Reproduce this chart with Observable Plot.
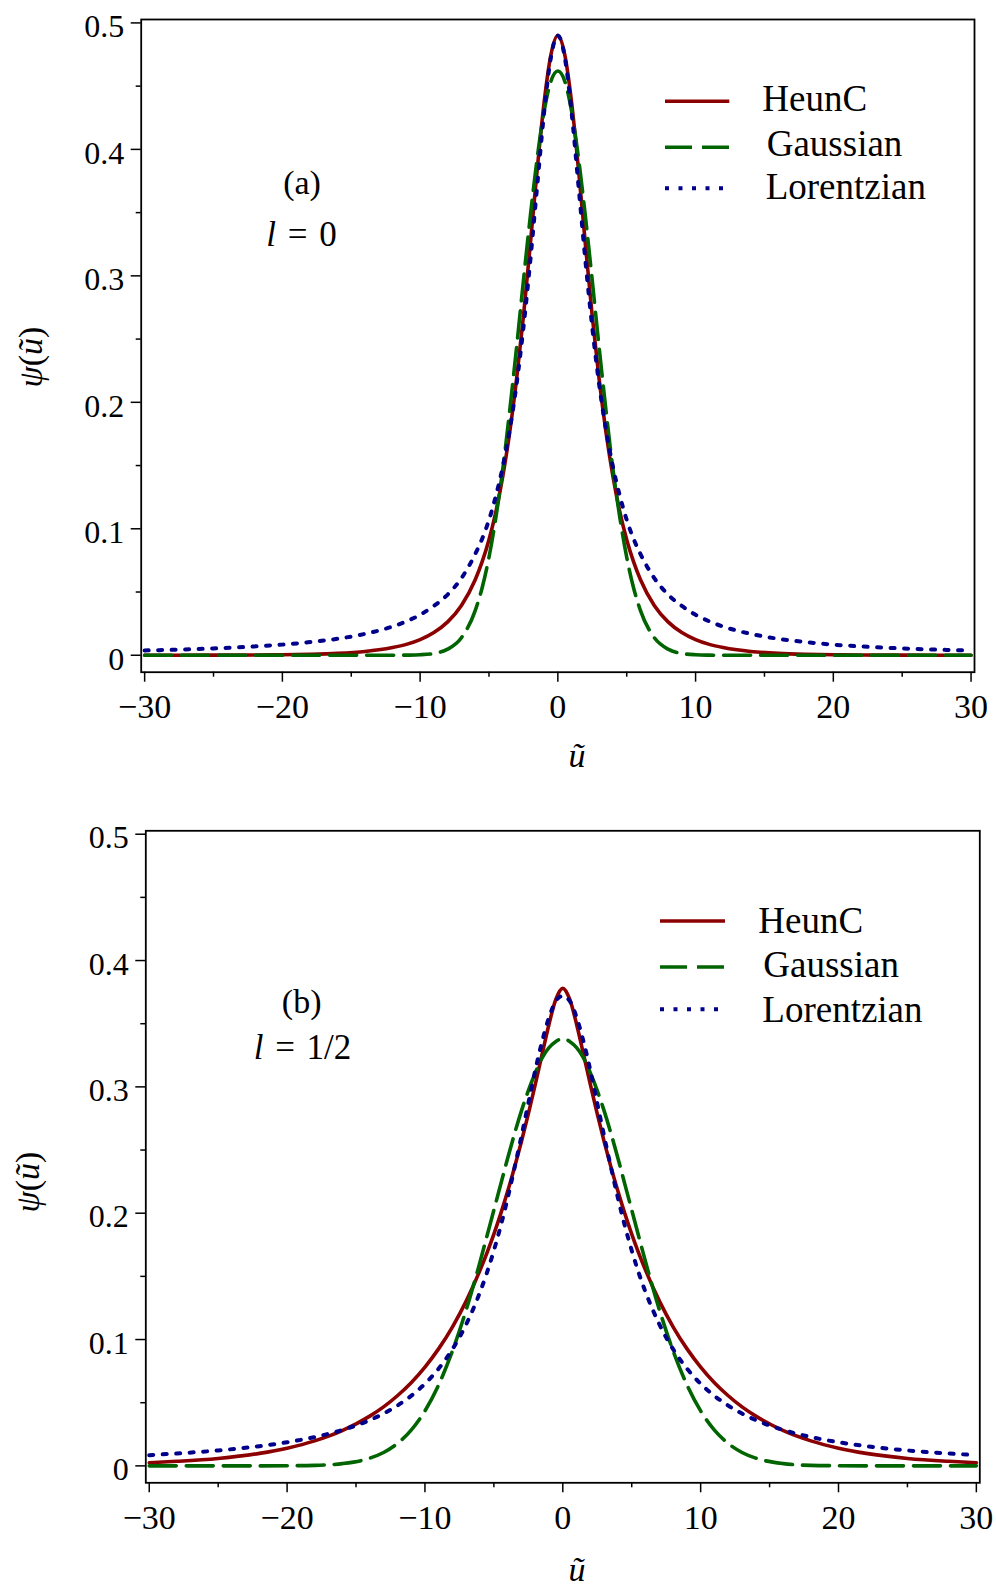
<!DOCTYPE html>
<html><head><meta charset="utf-8">
<script src="https://cdn.jsdelivr.net/npm/d3@7"></script>
<script src="https://cdn.jsdelivr.net/npm/@observablehq/plot@0.6"></script>
<style>
body{margin:0;background:#fff;}
#chart{position:relative;width:996px;height:1590px;background:#fff;}
#chart svg{display:block;}
</style></head><body><div id="chart"></div>
<script>
// ---- data ----
const uGrid = [-30,-28,-25,-22,-20,-18,-16,-14,-13,-12,-11,-10,-9,-8,-7,-6,-5.5,-5,-4.5,-4,-3.5,-3,-2.5,-2,-1.5,-1,-0.5,0,0.5,1,1.5,2,2.5,3,3.5,4,4.5,5,5.5,6,7,8,9,10,11,12,13,14,16,18,20,22,25,28,30];

// panel (a), l = 0
const heunA = [.00002,.00003,.00007,.00019,.00038,.00076,.0015,.0030,.0043,.0061,.0086,.0124,.0180,.0264,.0394,.0597,.0738,.0914,.1134,.1414,.176,.218,.268,.325,.384,.437,.475,
  .490,
  .475,.437,.384,.325,.268,.218,.176,.1414,.1134,.0914,.0738,.0597,.0394,.0264,.0180,.0124,.0086,.0061,.0043,.0030,.0015,.00076,.00038,.00019,.00007,.00003,.00002];
const gaussA = [0,0,0,0,0,0,0,0,0,0,.0001,.0004,.0014,.0048,.0139,.0353,.0532,.0775,.109,.147,.193,.243,.296,.347,.393,.430,.454,
  .462,
  .454,.430,.393,.347,.296,.243,.193,.147,.109,.0775,.0532,.0353,.0139,.0048,.0014,.0004,.0001,0,0,0,0,0,0,0,0,0,0];
const lorA = [.0038,.0043,.0054,.0070,.0084,.0104,.0130,.0169,.0195,.0227,.0268,.032,.039,.048,.061,.080,.092,.107,.126,.149,.178,.214,.259,.312,.371,.429,.473,
  .490,
  .473,.429,.371,.312,.259,.214,.178,.149,.126,.107,.092,.080,.061,.048,.039,.032,.0268,.0227,.0195,.0169,.0130,.0104,.0084,.0070,.0054,.0043,.0038];

// panel (b), l = 1/2
const heunB = [.0025,.0036,.0059,.0099,.0140,.0198,.0279,.0394,.0467,.0555,.0658,.0782,.0928,.1101,.1306,.1549,.1686,.1835,.1997,.2173,.2363,.2567,.2786,.3018,.3259,.3496,.3694,
  .378,
  .3694,.3496,.3259,.3018,.2786,.2567,.2363,.2173,.1997,.1835,.1686,.1549,.1306,.1101,.0928,.0782,.0658,.0555,.0467,.0394,.0279,.0198,.0140,.0099,.0059,.0036,.0025];
const gaussB = [0,0,0,0,.0001,.0004,.0018,.0061,.0106,.0177,.0283,.0435,.0643,.0911,.1238,.1616,.182,.2025,.223,.2435,.263,.281,.297,.311,.323,.331,.336,
  .338,
  .336,.331,.323,.311,.297,.281,.263,.2435,.223,.2025,.182,.1616,.1238,.0911,.0643,.0435,.0283,.0177,.0106,.0061,.0018,.0004,.0001,0,0,0,0];
const lorB = [.0085,.0098,.0122,.0156,.0187,.0228,.0284,.0362,.0414,.0477,.0554,.0650,.0771,.0924,.1122,.1377,.153,.1705,.190,.212,.236,.261,.287,.313,.336,.355,.368,
  .372,
  .368,.355,.336,.313,.287,.261,.236,.212,.190,.1705,.153,.1377,.1122,.0924,.0771,.0650,.0554,.0477,.0414,.0362,.0284,.0228,.0187,.0156,.0122,.0098,.0085];

const seriesNames = ["HeunC","Gaussian","Lorentzian"];
const yTicks = [0,0.1,0.2,0.3,0.4,0.5];
const yMinor = [0.05,0.15,0.25,0.35,0.45];
const xTicks = [-30,-20,-10,0,10,20,30];
const xMinor = [-25,-15,-5,5,15,25];
const panelTags = ["(a)","(b)"];
const panelL = ["0","1/2"];

// ---- styles ----
const colors = ["#8b0000","#006400","#00008b"];
const dashes = ["none","27,10","4,9.5"];
const widths = [3.6, 3.6, 4];
const FONT = "'Liberation Serif', 'Times New Roman', serif";
const yFmt = d => d === 0 ? "0" : d3.format(".1f")(d);

function panel(cfg) {
  const rows = uGrid.map((u, i) => ({u, heun: cfg.heun[i], gauss: cfg.gauss[i], lor: cfg.lor[i]}));
  const svg = Plot.plot({
    width: 996, height: cfg.height,
    marginLeft: cfg.ml, marginRight: cfg.mr, marginTop: cfg.mt, marginBottom: cfg.mb,
    x: {domain: [-30.25, 30.25]},
    y: {domain: [-0.0134, 0.5027]},
    style: {fontFamily: FONT, color: "#000", background: "#fff", overflow: "visible"},
    marks: [
      Plot.axisY({ticks: yTicks, tickSize: 10, tickPadding: 7, fontSize: 32, strokeWidth: 1.5, tickFormat: yFmt, label: null}),
      Plot.axisY({ticks: yMinor, tickSize: 5, tickFormat: () => "", strokeWidth: 1.5, label: null}),
      Plot.axisX({ticks: xTicks, tickSize: 10, tickPadding: 12, fontSize: 34, strokeWidth: 1.5, label: null}),
      Plot.axisX({ticks: xMinor, tickSize: 5, tickFormat: () => "", strokeWidth: 1.5, label: null}),
      Plot.line(rows, {x: "u", y: "heun", stroke: colors[0], strokeWidth: widths[0], curve: "monotone-x"}),
      Plot.line(rows, {x: "u", y: "gauss", stroke: colors[1], strokeWidth: widths[1], strokeDasharray: dashes[1], curve: "monotone-x"}),
      Plot.line(rows, {x: "u", y: "lor", stroke: colors[2], strokeWidth: widths[2], strokeDasharray: dashes[2], curve: "monotone-x"}),
      Plot.frame({strokeWidth: 1.8})
    ]
  });
  const s = d3.select(svg);
  // shift y tick labels slightly down
  s.selectAll('g[aria-label="y-axis tick label"]').each(function() {
    const t = this.getAttribute("transform") || "";
    this.setAttribute("transform", (t + " translate(0,4)").trim());
  });
  const g = s.append("g").attr("font-family", FONT).attr("fill", "#000");
  // axis labels
  const yl = g.append("text").attr("transform", `translate(${cfg.ylab[0]},${cfg.ylab[1]}) rotate(-90)`)
    .attr("text-anchor", "middle").attr("font-size", 34);
  yl.append("tspan").attr("font-style", "italic").text("ψ");
  yl.append("tspan").text("(");
  yl.append("tspan").attr("font-style", "italic").text("ũ");
  yl.append("tspan").text(")");
  g.append("text").attr("x", cfg.xlab[0]).attr("y", cfg.xlab[1]).attr("text-anchor", "middle")
    .attr("font-size", 34).attr("font-style", "italic").text("ũ");
  // panel annotation
  g.append("text").attr("x", cfg.tag[0]).attr("y", cfg.tag[1]).attr("text-anchor", "middle")
    .attr("font-size", 34).text(cfg.tagText);
  const lt = g.append("text").attr("x", cfg.lval[0]).attr("y", cfg.lval[1]).attr("text-anchor", "middle")
    .attr("font-size", 35);
  lt.append("tspan").attr("font-style", "italic").text("l");
  lt.append("tspan").text("\u2004=\u2004" + cfg.lText);
  // legend
  seriesNames.forEach((name, i) => {
    g.append("line").attr("x1", cfg.leg.x1).attr("x2", cfg.leg.x2)
      .attr("y1", cfg.leg.ly[i]).attr("y2", cfg.leg.ly[i])
      .attr("stroke", colors[i]).attr("stroke-width", widths[i])
      .attr("stroke-dasharray", dashes[i]);
    g.append("text").attr("x", cfg.leg.tx[i]).attr("y", cfg.leg.ty[i])
      .attr("text-anchor", "start").attr("font-size", 37).text(name);
  });
  return svg;
}

const chart = document.getElementById("chart");
chart.appendChild(panel({
  heun: heunA, gauss: gaussA, lor: lorA,
  height: 811, ml: 140.7, mr: 22, mt: 19, mb: 139.3,
  ylab: [41.5, 357], xlab: [577, 767],
  tag: [302, 193.5], tagText: panelTags[0],
  lval: [301.5, 246], lText: panelL[0],
  leg: {x1: 665, x2: 729.3, ly: [101.3, 147.3, 188.3], tx: [762.3, 766.7, 765.7], ty: [110.7, 156, 199.3]}
}));
chart.appendChild(panel({
  heun: heunB, gauss: gaussB, lor: lorB,
  height: 779, ml: 145.3, mr: 16.7, mt: 19.3, mb: 107.7,
  ylab: [38.5, 371], xlab: [577, 770],
  tag: [301.7, 202], tagText: panelTags[1],
  lval: [302.5, 248], lText: panelL[1],
  leg: {x1: 660, x2: 725, ly: [110, 156, 198.3], tx: [758.3, 763.3, 762.3], ty: [121.7, 166.3, 210.7]}
}));
</script></body></html>
